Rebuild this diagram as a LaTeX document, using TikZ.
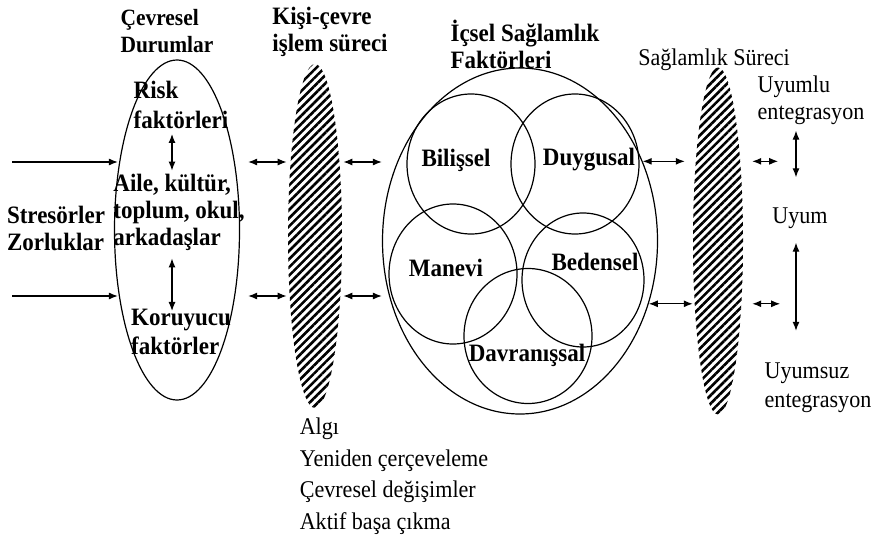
\documentclass[tikz,border=0pt]{standalone}
\usepackage{fontspec}
\setmainfont{Liberation Serif}[FakeStretch=0.92]
\usetikzlibrary{shapes.geometric,patterns.meta,arrows.meta}

\begin{document}
\begin{tikzpicture}[x=1pt,y=-1pt,>={Latex[length=9pt,width=7pt]}]
		\tikzstyle{SHAPE} = [draw, line width=1.2pt, inner sep=0pt]
		\tikzstyle{ell} = [SHAPE, ellipse]
		\tikzstyle{fac} = [SHAPE, ellipse, minimum width=128pt, minimum height=140pt]
		\tikzstyle{hatch} = [ellipse, inner sep=0pt, pattern={Lines[angle=45,distance=5.8pt,line width=2.6pt]}]
		\tikzstyle{BOLD} = [inner sep=0pt, align=left, font=\bfseries\fontsize{25}{27}\selectfont]
		\tikzstyle{NORM} = [inner sep=0pt, align=left, font=\fontsize{24}{27}\selectfont]
		\tikzstyle{arr} = [<->, line width=1.2pt]
		\useasboundingbox (0,0) rectangle (874,540);

		% shapes
		\node[ell, minimum width=125pt, minimum height=340pt] (eOne) at (177,230) {};
		\node[hatch, minimum width=54pt, minimum height=344pt] (hOne) at (315,236) {};
		\node[ell, minimum width=275pt, minimum height=346pt] (bigEll) at (520,241) {};
		\node[hatch, minimum width=50pt, minimum height=347pt] (hTwo) at (718,241) {};
		\node[fac] (cBil) at (471,164) {};
		\node[fac] (cDuy) at (575,164) {};
		\node[fac] (cMan) at (453,274) {};
		\node[fac, minimum width=122pt, minimum height=134pt] (cBed) at (583,280) {};
		\node[fac, minimum height=135pt] (cDav) at (528,336) {};

		% headings
		\node[BOLD, font=\bfseries\fontsize{23.3}{27}\selectfont] (tCev) at (167,31) {Çevresel\\Durumlar};
		\node[BOLD] (tKisi) at (330,32) {Kişi-çevre\\işlem süreci};
		\node[BOLD] (tIcsel) at (525,44) {İçsel Sağlamlık\\Faktörleri};
		\node[NORM] (tSag) at (714,60) {Sağlamlık Süreci};

		% texts
		\node[BOLD] (tStr) at (56,228) {Stresörler\\Zorluklar};
		\node[BOLD, font=\bfseries\fontsize{25}{30}\selectfont] (tRisk) at (181,105) {Risk\\faktörleri};
		\node[BOLD] (tAile) at (179,212) {Aile, kültür,\\toplum, okul,\\arkadaşlar};
		\node[BOLD, font=\bfseries\fontsize{25}{29}\selectfont] (tKor) at (181,332) {Koruyucu\\faktörler};
		\node[BOLD] (tBil) at (456,160) {Bilişsel};
		\node[BOLD] (tDuy) at (589,160) {Duygusal};
		\node[BOLD] (tMan) at (446,268) {Manevi};
		\node[BOLD] (tBed) at (595,262) {Bedensel};
		\node[BOLD] (tDav) at (527,355) {Davranışsal};
		\node[NORM] (tUyumlu) at (811,100) {Uyumlu\\entegrasyon};
		\node[NORM] (tUyum) at (800,218) {Uyum};
		\node[NORM, font=\fontsize{24}{29}\selectfont] (tUyumsuz) at (818,388) {Uyumsuz\\entegrasyon};
		\node[NORM, font=\fontsize{24}{31.5}\selectfont] (tList) at (394,476) {Algı\\Yeniden çerçeveleme\\ Çevresel değişimler\\ Aktif başa çıkma};

		% rows
		\coordinate (rowA) at (0,162);
		\coordinate (rowB) at (0,296);
		\coordinate (sA) at (12,162);
		\coordinate (sB) at (12,296);

		% arrows
		\draw[->, line width=1.2pt, shorten >=-4pt] (sA) -- (sA -| eOne.west);
		\draw[->, line width=1.2pt, shorten >=-4pt] (sB) -- (sB -| eOne.west);
		\draw[arr, shorten <=5pt, shorten >=3pt] (tRisk.south -| 172,0) -- (tAile.north -| 172,0);
		\draw[arr, shorten <=8pt, shorten >=-2pt] (tAile.south -| 172,0) -- (tKor.north -| 172,0);
		\draw[arr, shorten <=8pt] (eOne.east |- rowA) -- (hOne.west |- rowA);
		\draw[arr, shorten <=8pt] (eOne.east |- rowB) -- (hOne.west |- rowB);
		\draw[arr] (hOne.east |- rowA) -- (bigEll.west |- rowA);
		\draw[arr] (hOne.east |- rowB) -- (bigEll.west |- rowB);
		\draw[arr, shorten >=8pt] (bigEll.33) -- (bigEll.33 -| hTwo.west);
		\draw[arr] (bigEll.-26) -- (bigEll.-26 -| hTwo.west);
		\draw[arr, shorten <=9pt] (bigEll.33 -| hTwo.east) -- ++(35,0);
		\draw[arr, shorten <=9pt] (bigEll.-26 -| hTwo.east) -- ++(37,0);
		\draw[arr, shorten <=6pt, shorten >=30pt] (tUyumlu.south -| 796,0) -- (tUyum.north -| 796,0);
		\draw[arr, shorten <=14pt, shorten >=32pt] (tUyum.south -| 796,0) -- (tUyumsuz.north -| 796,0);
\end{tikzpicture}
\end{document}
